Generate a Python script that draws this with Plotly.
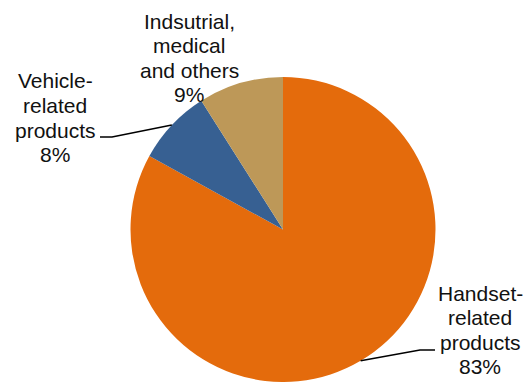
import math
import plotly.graph_objects as go

# ---- data ----
categories = ["Handset-related products", "Vehicle-related products", "Indsutrial, medical and others"]
values = [83, 8, 9]
label_lines = [
    ["Handset-", "related", "products", "83%"],
    ["Vehicle-", "related", "products", "8%"],
    ["Indsutrial,", "medical", "and others", "9%"],
]
colors = ["#E46B0C", "#376092", "#BD9858"]

# ---- layout geometry (pixels) ----
W, H = 531, 382
cx, cy, r = 283, 229.5, 152.5
font_px = 21
line_gap = 24.5
# label block: (center x, center y of first line)
label_pos = [(480, 293), (55, 81), (189, 21.5)]
# leader elbows: (elbow x, elbow y, end x, end y) or None
leaders = [(420, 350, 435, 350), (112, 137, 100, 137), None]

def px(x):
    return x / W

def py(y):
    return 1 - y / H

fig = go.Figure(go.Pie(
    labels=categories, values=values, sort=False, direction="clockwise",
    rotation=0, textinfo="none", hoverinfo="label+percent",
    marker=dict(colors=colors, line=dict(width=0)),
    domain=dict(x=[px(cx - r), px(cx + r)], y=[py(cy + r), py(cy - r)]),
    showlegend=False,
))

annotations = []
for (lx, ly), lines in zip(label_pos, label_lines):
    for i, t in enumerate(lines):
        annotations.append(dict(
            x=px(lx), y=py(ly + i * line_gap), xref="paper", yref="paper",
            text=t, showarrow=False, xanchor="center", yanchor="middle",
            font=dict(family="Liberation Sans, Arial", size=font_px, color="#111111"),
        ))

shapes = []
total = sum(values)
cum = 0
for v, ld in zip(values, leaders):
    mid = (cum + v / 2) / total * 2 * math.pi
    cum += v
    if ld is None:
        continue
    sx = cx + r * math.sin(mid)
    sy = cy - r * math.cos(mid)
    ex1, ey1, ex2, ey2 = ld
    path = f"M {px(sx)},{py(sy)} L {px(ex1)},{py(ey1)} L {px(ex2)},{py(ey2)}"
    shapes.append(dict(type="path", xref="paper", yref="paper", path=path,
                       line=dict(color="black", width=1.5)))

fig.update_layout(
    width=W, height=H, margin=dict(l=0, r=0, t=0, b=0),
    paper_bgcolor="white", plot_bgcolor="white",
    annotations=annotations, shapes=shapes,
)

fig.write_html("out.html", config={"displayModeBar": False},
               post_script="document.body.style.margin='0px';document.body.style.overflow='hidden';")
